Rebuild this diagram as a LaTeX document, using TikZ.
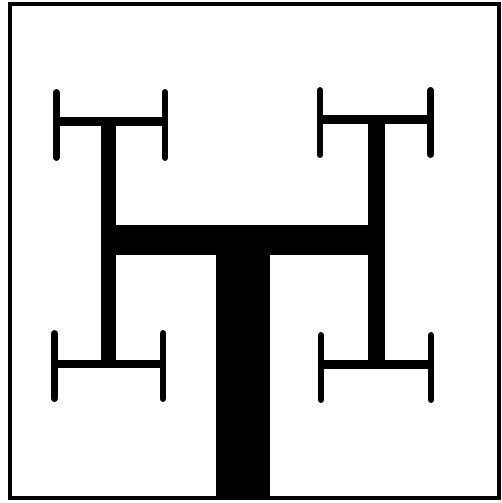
\documentclass[tikz,border=0pt]{standalone}
\begin{document}
\begin{tikzpicture}[x=1pt,y=-1pt,
  frame/.style={line width=4pt},
  upright/.style={line width=6.5pt,line cap=round}]
\useasboundingbox (0,0) rectangle (501,503);
% frame
\draw[frame] (10,4.5) rectangle (499,497.5);
% trunk
\fill (216,240) rectangle (270,497.5);
% main crossbar
\fill (101,225) rectangle (385,255);
% level-2 stems
\fill (101,117) rectangle (116,367);
\fill (368,115) rectangle (385,369);
% top-left H
\fill (56,117) rectangle (165,126);
\draw[upright] (56.3,92.3) -- (56.3,157.7);
\draw[upright] (165,92.3) -- (165,157.7);
% top-right H
\fill (320,115) rectangle (430.5,124);
\draw[upright] (320,90.3) -- (320,154.7);
\draw[upright] (430.5,90.3) -- (430.5,154.7);
% bottom-left H
\fill (54.5,360) rectangle (163,367.5);
\draw[upright] (54.5,333.3) -- (54.5,398.7);
\draw[upright] (163,333.3) -- (163,398.7);
% bottom-right H
\fill (321,360) rectangle (431,369);
\draw[upright] (321,335.3) -- (321,399.7);
\draw[upright] (431,335.3) -- (431,399.7);
\end{tikzpicture}
\end{document}
